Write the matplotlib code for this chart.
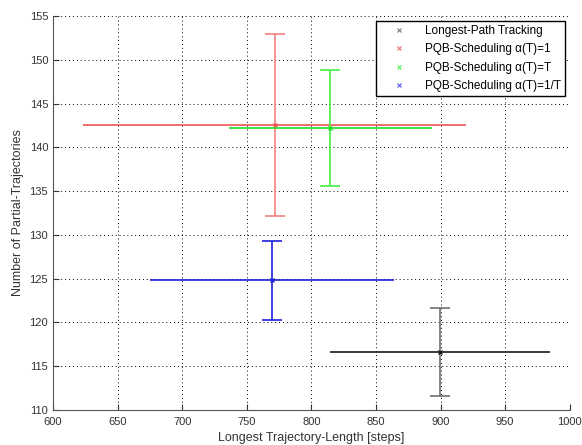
import matplotlib
matplotlib.use("Agg")
import matplotlib.pyplot as plt

plt.rcParams['font.family'] = ['Liberation Sans', 'DejaVu Sans']

# data (mean and spread for each method)
names = ['Longest-Path Tracking', 'PQB-Scheduling α(T)=1',
         'PQB-Scheduling α(T)=T', 'PQB-Scheduling α(T)=1/T']
length_mean = [899.5, 771.7, 814.7, 769.7]
length_err = [85.0, 148.3, 78.5, 94.5]
traj_mean = [116.6, 142.6, 142.2, 124.8]
traj_err = [5.0, 10.4, 6.6, 4.5]

# colours: horizontal bar, vertical bar, legend marker
hcolors = ['#1a1a1a', '#ee5555', '#22dd22', '#2020dd']
vcolors = ['#707070', '#f48080', '#44ee44', '#2020dd']
lcolors = ['#777777', '#f07070', '#55ee55', '#5555ee']

fig = plt.figure(figsize=(5.82, 4.45), dpi=100)
ax = fig.add_axes([0.091, 0.079, 0.888, 0.885])

handles = []
for i in range(len(names)):
    ax.errorbar(length_mean[i], traj_mean[i], xerr=length_err[i],
                fmt='none', ecolor=hcolors[i], elinewidth=1.2, capsize=0)
    ax.errorbar(length_mean[i], traj_mean[i], yerr=traj_err[i],
                fmt='none', ecolor=vcolors[i], elinewidth=1.2,
                capsize=7.5, capthick=1.2)
    ax.plot(length_mean[i], traj_mean[i], 'x', color=hcolors[i],
            markersize=3, markeredgewidth=1)
    h, = ax.plot([], [], 'x', color=lcolors[i], markersize=3.5,
                 markeredgewidth=0.8, label=names[i])
    handles.append(h)

ax.set_xlim(600, 1000)
ax.set_ylim(110, 155)
ax.set_xticks(range(600, 1001, 50))
ax.set_yticks(range(110, 156, 5))
ax.grid(True, linestyle=(0, (1, 3)), color='black', linewidth=0.7)
ax.spines['top'].set_visible(False)
ax.spines['right'].set_visible(False)
ax.spines['left'].set_color('#555555')
ax.spines['bottom'].set_color('#555555')
ax.tick_params(direction='in', labelsize=8, colors='#333333', length=4)
ax.tick_params(axis='x', pad=5)

ax.set_xlabel('Longest Trajectory-Length [steps]', fontsize=9, color='#333333')
ax.set_ylabel('Number of Partial-Trajectories', fontsize=9, color='#333333')

leg = ax.legend(handles=handles, loc='upper right', fontsize=8.5,
                fancybox=False, framealpha=1, edgecolor='black',
                borderaxespad=0.4, borderpad=0.35, handlelength=3.2,
                handletextpad=0.6, labelspacing=0.55)
leg.get_frame().set_linewidth(1)

fig.savefig('out.png', dpi=100)
